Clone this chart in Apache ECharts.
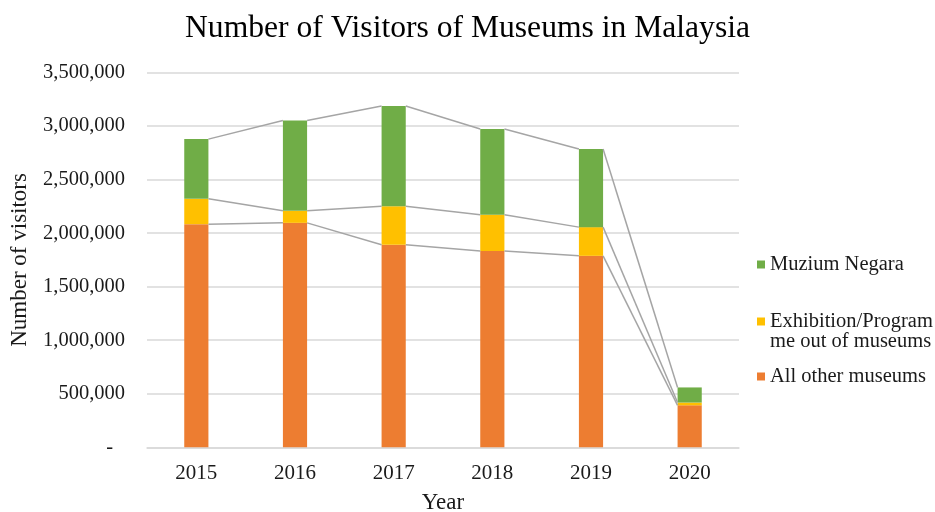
<!DOCTYPE html>
<html>
<head>
<meta charset="utf-8">
<script src="https://cdn.jsdelivr.net/npm/echarts@6/dist/echarts.min.js"></script>
<style>
html,body{margin:0;padding:0;background:#fff;}
#chart{width:935px;height:512px;}
</style>
</head>
<body>
<div id="chart"></div>
<script>
const years = ['2015', '2016', '2017', '2018', '2019', '2020'];
const allOtherMuseums = [2084000, 2096000, 1891000, 1832000, 1788000, 392000];
const exhibitionOut = [236000, 112000, 361000, 339000, 268000, 26000];
const muziumNegara = [558000, 844000, 935000, 801000, 729000, 141000];
const yTicks = [0, 500000, 1000000, 1500000, 2000000, 2500000, 3000000, 3500000];
const seriesNames = ['All other museums', 'Exhibition/Programme out of museums', 'Muzium Negara'];

const FONT = 'Liberation Serif';
const BAR_FRAC = 0.245;
const TXT = '#1a1a1a';
const FS = 20.5;

// cumulative tops for series lines
const cum1 = allOtherMuseums.slice();
const cum2 = allOtherMuseums.map((v, i) => v + exhibitionOut[i]);
const cum3 = cum2.map((v, i) => v + muziumNegara[i]);
const levels = [cum1, cum2, cum3];

const chart = echarts.init(document.getElementById('chart'));

function fmt(v) {
  if (v === 0) return '{d|-}';
  return v.toString().replace(/\B(?=(\d{3})+(?!\d))/g, ',');
}

function legendBox(name, top, label) {
  return {
    data: [name],
    orient: 'vertical', left: 752, top: top,
    itemWidth: 8, itemHeight: 8, icon: 'rect', itemGap: 0,
    formatter: function () { return label; },
    textStyle: { fontFamily: FONT, fontSize: FS, color: TXT }
  };
}

chart.setOption({
  animation: false,
  backgroundColor: '#ffffff',
  title: {
    text: 'Number of Visitors of Museums in Malaysia',
    left: 'center',
    top: 8,
    textStyle: { fontFamily: FONT, fontSize: 31.6, fontWeight: 'normal', color: '#000' }
  },
  grid: { left: 147, right: 196, top: 72.5, bottom: 64.7, containLabel: false, outerBoundsMode: 'none' },
  legend: [
    legendBox(seriesNames[2], 249, 'Muzium Negara'),
    legendBox(seriesNames[1], 306, 'Exhibition/Program'),
    legendBox(seriesNames[0], 361, 'All other museums')
  ],
  graphic: [{
    type: 'text',
    left: 770,
    top: 331,
    style: { text: 'me out of museums', font: FS + 'px "' + FONT + '"', fill: TXT }
  }],
  xAxis: {
    type: 'category',
    data: years,
    name: 'Year',
    nameLocation: 'middle',
    nameGap: 44,
    nameTextStyle: { fontFamily: FONT, fontSize: 23, color: TXT },
    axisLine: { lineStyle: { color: '#d9d9d9', width: 1.5 } },
    axisTick: { show: false },
    axisLabel: { fontFamily: FONT, fontSize: 21, color: TXT, margin: 16 }
  },
  yAxis: {
    type: 'value',
    min: yTicks[0],
    max: yTicks[yTicks.length - 1],
    interval: 500000,
    name: 'Number of visitors',
    nameLocation: 'middle',
    nameGap: 116,
    nameTextStyle: { fontFamily: FONT, fontSize: 23, color: TXT },
    axisLine: { show: false },
    axisTick: { show: false },
    splitLine: { lineStyle: { color: '#d9d9d9', width: 1.5 } },
    axisLabel: {
      fontFamily: FONT, fontSize: FS, color: TXT, margin: 22,
      formatter: fmt,
      rich: { d: { fontFamily: FONT, fontSize: FS, color: TXT, padding: [0, 12, 0, 0] } }
    }
  },
  series: [
    {
      name: seriesNames[0], type: 'bar', stack: 'v', barWidth: (BAR_FRAC * 100) + '%',
      itemStyle: { color: '#ed7d31' }, data: allOtherMuseums
    },
    {
      name: seriesNames[1], type: 'bar', stack: 'v',
      itemStyle: { color: '#ffc000' }, data: exhibitionOut
    },
    {
      name: seriesNames[2], type: 'bar', stack: 'v',
      itemStyle: { color: '#70ad47' }, data: muziumNegara
    },
    {
      type: 'custom',
      silent: true,
      z: 5,
      data: years.slice(0, years.length - 1).map((y, i) => [i]),
      encode: { x: 0 },
      renderItem: function (params, api) {
        const i = params.dataIndex;
        const half = api.size([1, 0])[0] * BAR_FRAC / 2;
        const children = levels.map(lv => {
          const p1 = api.coord([i, lv[i]]);
          const p2 = api.coord([i + 1, lv[i + 1]]);
          return {
            type: 'line',
            shape: { x1: p1[0] + half, y1: p1[1], x2: p2[0] - half, y2: p2[1] },
            style: { stroke: '#a5a5a5', lineWidth: 1.5 }
          };
        });
        return { type: 'group', children: children };
      }
    }
  ]
});
</script>
</body>
</html>
